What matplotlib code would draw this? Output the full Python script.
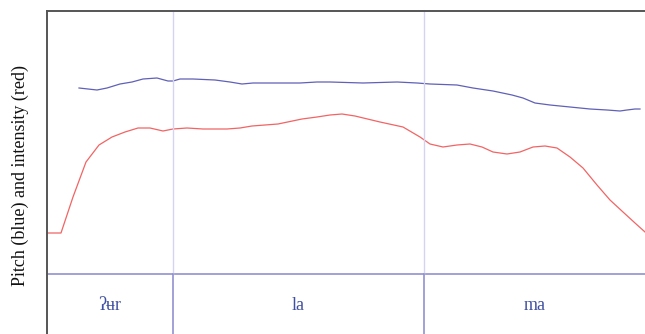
import matplotlib
matplotlib.use("Agg")
import matplotlib.pyplot as plt

# Time (ms) and relative level of intensity (red) and pitch (blue)
int_t = [0, 14, 26, 39, 52, 65, 78, 91, 103, 116, 126, 140, 156, 180, 193, 205,
         231, 255, 270, 283, 295, 308, 333, 356, 373, 383, 396, 410, 423, 435,
         446, 460, 473, 486, 498, 510, 523, 536, 550, 563, 576, 588, 598]
int_v = [41, 41, 77, 112, 129, 137, 142, 146, 146, 143, 145, 146, 145, 145, 146, 148,
         150, 155, 157, 159, 160, 158, 152, 147, 137, 130, 127, 129, 130, 127,
         122, 120, 122, 127, 128, 126, 117, 106, 89, 74, 62, 51, 42]

pitch_t = [32, 41, 50, 60, 73, 85, 96, 110, 121, 126, 133, 146, 168, 183, 195, 206,
           226, 253, 270, 283, 316, 350, 370, 383, 410, 426, 446, 465, 476, 488,
           503, 523, 543, 560, 573, 580, 588, 593]
pitch_v = [186, 185, 184, 186, 190, 192, 195, 196, 193, 193, 195, 195, 194, 192, 190, 191,
           191, 191, 192, 192, 191, 192, 191, 190, 189, 186, 183, 179, 176, 171,
           169, 167, 165, 164, 163, 164, 165, 165]

# Syllable boundaries (ms) and labels
bounds = [0, 126, 377, 598]
syllables = ["ʔʉr", "la", "ma"]

W, H = 645, 334
fig = plt.figure(figsize=(W / 100, H / 100), dpi=100)
# axes box runs past the right and bottom edges of the figure
left, top = 47, 11
ax = fig.add_axes([left / W, (H - 340) / H, 603 / W, (340 - top) / H])
ax.set_xlim(0, 603)
ax.set_ylim(-66, 263)

serif = ["Liberation Serif", "DejaVu Serif"]

ax.plot(int_t, int_v, color="#f26464", lw=0.9)
ax.plot(pitch_t, pitch_v, color="#6060b8", lw=0.9)

ax.axhline(0, color="#8888cc", lw=1.1)
for b in bounds[1:-1]:
    ax.plot([b, b], [0, 263], color="#d4d4f0", lw=1.0)
    ax.plot([b, b], [-66, 0], color="#8888cc", lw=1.1)

for i, s in enumerate(syllables):
    xc = (bounds[i] + bounds[i + 1]) / 2
    ax.text(xc, -32, s, ha="center", va="center", color="#4050a0",
            fontsize=13, family=serif)

for side in ("right", "bottom"):
    ax.spines[side].set_visible(False)
for side in ("left", "top"):
    ax.spines[side].set_color("#555555")
    ax.spines[side].set_linewidth(1.4)
ax.set_xticks([])
ax.set_yticks([])

fig.text(20 / W, 1 - 175 / H, "Pitch (blue) and intensity (red)", rotation=90,
         ha="center", va="center", fontsize=13, family=serif, color="#111111")

fig.savefig("out.png", dpi=100)
